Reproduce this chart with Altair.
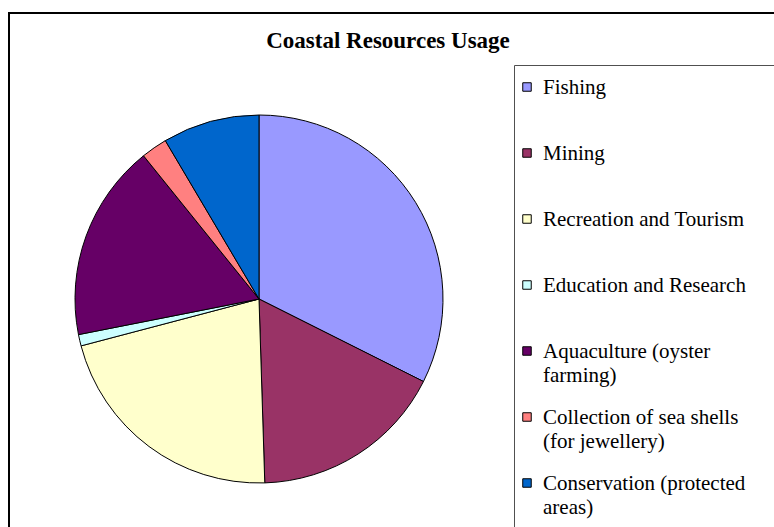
import altair as alt
import pandas as pd

# ---- data ----
categories = [
    "Fishing",
    "Mining",
    "Recreation and Tourism",
    "Education and Research",
    "Aquaculture (oyster farming)",
    "Collection of sea shells (for jewellery)",
    "Conservation (protected areas)",
]
legend_labels = [
    "Fishing",
    "Mining",
    "Recreation and Tourism",
    "Education and Research",
    "Aquaculture (oyster|farming)",
    "Collection of sea shells|(for jewellery)",
    "Conservation (protected|areas)",
]
values = [32.4, 17.1, 21.4, 1.0, 17.3, 2.3, 8.5]
colors = ["#9999FF", "#993366", "#FFFFCC", "#CCFFFF", "#660066", "#FF8080", "#0066CC"]
title_text = "Coastal Resources Usage"

df = pd.DataFrame({
    "category": categories,
    "label": legend_labels,
    "value": values,
    "order": list(range(len(categories))),
})
one = pd.DataFrame({"a": [0]})

color_scale = alt.Scale(domain=categories, range=colors)
y_legend = alt.Y("order:O", scale=alt.Scale(type="point", range=[87, 483], padding=0), axis=None)

frame = alt.Chart(one).mark_rect(filled=False, stroke="black", strokeWidth=2).encode(
    x=alt.value(9), y=alt.value(13), x2=alt.value(1000), y2=alt.value(1000)
)
legend_box = alt.Chart(one).mark_rect(filled=False, stroke="#505050", strokeWidth=1).encode(
    x=alt.value(514.5), y=alt.value(65.5), x2=alt.value(1000), y2=alt.value(1000)
)

pie = alt.Chart(df).mark_arc(outerRadius=184, stroke="black", strokeWidth=1).encode(
    theta=alt.Theta("value:Q", stack=True),
    order=alt.Order("order:Q"),
    color=alt.Color("category:N", scale=color_scale, legend=None),
    x=alt.value(259),
    y=alt.value(299),
)

symbols = alt.Chart(df).mark_square(size=72, stroke="black", strokeWidth=1, opacity=1).encode(
    x=alt.value(527),
    y=y_legend,
    color=alt.Color("category:N", scale=color_scale, legend=None),
)

labels = alt.Chart(df).mark_text(
    align="left", baseline="alphabetic", dy=7, lineBreak="|",
    font="Liberation Serif", fontSize=21, lineHeight=24, color="black",
).encode(
    x=alt.value(543),
    y=y_legend,
    text="label:N",
)

title = alt.Chart(one).mark_text(
    text=title_text, font="Liberation Serif", fontWeight="bold", fontSize=23,
    align="center", baseline="alphabetic", color="black",
).encode(x=alt.value(388), y=alt.value(48))

chart = alt.layer(frame, legend_box, pie, symbols, labels, title).properties(
    width=774, height=527, autosize="none", padding=0, background="white"
).configure_view(strokeWidth=0)

chart.save("out.html", embed_options={"renderer": "svg", "actions": False})
